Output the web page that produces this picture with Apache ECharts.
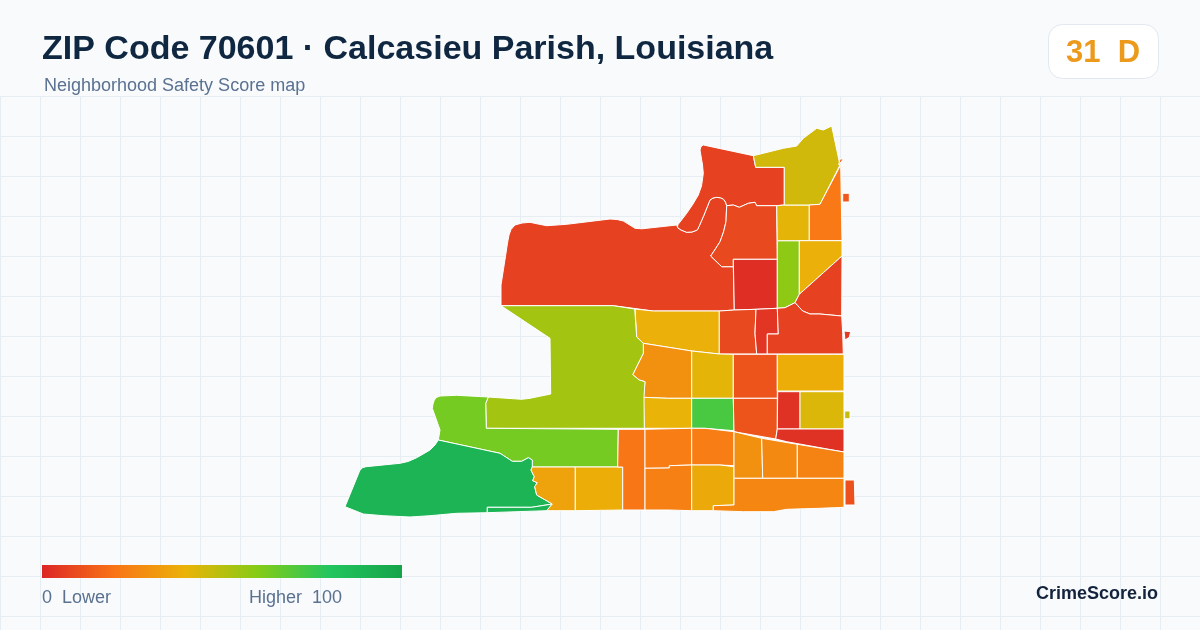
<!DOCTYPE html>
<html>
<head>
<meta charset="utf-8">
<script src="https://cdn.jsdelivr.net/npm/echarts@6/dist/echarts.min.js"></script>
<style>html,body{margin:0;padding:0;background:#f8fafc}#c{width:1200px;height:630px}</style>
</head>
<body>
<div id="c"></div>
<script>
// Headline text
const titleText = 'ZIP Code 70601 · Calcasieu Parish, Louisiana';
const subtitleText = 'Neighborhood Safety Score map';
const badgeText = '31  D';
const legendLowText = '0  Lower';
const legendHighText = 'Higher  100';
const brandText = 'CrimeScore.io';

// Score colour ramp
const rampColors = ['#dc2626', '#f97316', '#eab308', '#84cc16', '#22c55e', '#16a34a'];

// Neighborhood scores
const tractNames = ['WestRiver','NorthBend','MidBend','Core1','StripGreen','NorthCell','NorthEast','EastStrip','EastTip','EastDot',
  'EastWedge','EastTriangle','YellowWest','Row2A','Row2B','Row2C','Row2Dot','Row3A','Row3B','Row3C','Row3D',
  'Row4A','Row4B','Row4C','Row4D','Row4E','Row4Dot','Row4F','GreatLime','MidLime','SouthWest','SouthWestStrip',
  'Bottom1','Bottom2','Bottom3','Row5A','Row5B','Row6A','Row6B','Diag1','Diag2','Diag3','Bottom4','BottomDot'];
const tractScores = [7,7,9,2,58,41,45,22,13,13,
  39,7,39,9,4,7,5,29,41,12,38,
  40,72,12,3,43,47,3,54,63,90,90,
  35,38,21,23,23,24,37,29,27,25,26,11];

// Neighborhood boundaries (flat x,y lists in map units, y running south)
const tractShapes = [
 [501,305.7,501,285,505.7,255,507.5,243,509,235,511,229.5,515,225,522,223,530,222.3,538,224,546.7,225.7,566.7,224.3,610,219,617,219.5,623.3,221,629,224.5,635,228.3,642,228.8,676.7,225,677.7,227.7,681,230,686.7,232.3,692,232,697.3,230,699,226.5,704,215,710,200,713,198,716.7,197.3,720.5,197.8,723.3,199,725.5,202,726.7,205.7,726.3,214,726,221.7,723.5,232,720,241.7,716,248,710.7,256,721.7,266.7,733.3,266.7,734.3,310,720,311,653.3,311,633.3,308.3,613.3,305.7],
 [677.7,227.7,677.7,225,686.7,213.3,693,204,698.3,195,701.5,186,703.3,173.3,702.5,165,700,150,701,146.5,703.3,145,753.3,155.7,755.7,167.3,784.3,167.3,784.3,205,776.7,205.7,756.7,205.7,755,202.3,748.3,203.3,739.3,207.3,733.3,205,726.7,205.7,725.5,202,723.3,199,720.5,197.8,716.7,197.3,713,198,710,200,704,215,699,226.5,697.3,230,692,232,686.7,232.3,681,230],
 [726.7,205.7,733.3,205,739.3,207.3,748.3,203.3,755,202.3,756.7,205.7,776.7,205.7,777.3,259.3,733.3,259.3,733.3,266.7,721.7,266.7,710.7,256,716,248,720,241.7,723.5,232,726,221.7,726.3,214],
 [733.3,259.3,777.3,259.3,777.3,308.3,756,309.3,734.3,310],
 [777.3,240.7,799.3,240.7,799.3,294.3,795,302.7,785,307.7,777.3,308.3],
 [776.7,205.7,784.3,205,809.3,205,809.3,240.7,777.3,240.7],
 [753.3,155.7,783.3,148.3,796.7,146,803.3,138.3,816.7,128.3,823.3,130,831.7,126,840,165,820,204.3,809.3,205,784.3,205,784.3,167.3,755.7,167.3],
 [840.7,165,842,240.7,809.3,240.7,809.3,205,820,204.3],
 [838.7,165,840,159,843.3,159],
 [842.7,193.3,849.3,193.3,849.3,202,842.7,202],
 [799.3,240.7,842,240.7,842,256,799.3,294.3],
 [795,302.7,799.3,294.3,842,256,841.7,316,820,314,810,314,802.7,311],
 [635,309,653.3,311,719.3,311,719.3,354,691.7,351,643.3,343.3,636.7,336.7],
 [719.3,311,734.3,310,756,309.3,755,333.3,756.7,354,719.3,354],
 [756,309.3,777.3,308.3,778.3,334,767.3,334,767.3,354,756.7,354,755,333.3],
 [777.3,308.3,785,307.7,795,302.7,802.7,311,810,314,820,314,841.7,316,842.7,333.3,843.3,354,767.3,354,767.3,334,778.3,334],
 [844,331,850.7,331.7,849.3,337.3,845,340],
 [643.3,343.3,691.7,351,691.7,398.3,667.3,398.3,643.3,397.3,645,381.7,639.3,380,632.7,374.7,643.3,353.3],
 [691.7,351,719.3,354,733.3,354.3,733.3,398.3,691.7,398.3],
 [733.3,354.3,777.3,354.3,777.3,398.3,733.3,398.3],
 [777.3,354.3,844,354.3,844,391,777.3,391],
 [643.3,397.3,667.3,398.3,691.7,398.3,691.7,428.3,644.3,428.3],
 [691.7,398.3,733.3,398.3,734,430.7,705,428.3,691.7,428.3],
 [733.3,398.3,777.3,398.3,777.3,429,775.7,439,734,431.7],
 [777.7,391.7,800,391.7,800,429,777.3,429],
 [800,391.7,844,391.7,844,429,800,429],
 [844.7,411,850,411,850,418.7,844.7,418.7],
 [777.3,429,844,429,844,452,786.7,441.7,775.7,439],
 [501,305.7,613.3,305.7,634.7,309,636.7,337,643.3,343.3,643.3,353.3,632.7,374.7,639.3,380,645,381.7,644,396.7,644.3,428.3,486.3,428.3,485.7,403.3,488.3,397,521.7,399.3,530,398.3,550.7,394,550,338.3],
 [433,404,434.3,400,436.5,397.5,440,396,456.7,395.3,488.3,397,485.7,403.3,486.3,428.3,618.3,429.3,617.7,467,532.3,467,532.3,460,528.3,457.7,521.7,461.3,512.3,461.3,500,453.3,438.3,440,440,430,432.3,408.3],
 [438.3,440,500,453.3,512.3,461.3,521.7,461.3,528.3,457.7,532.3,460,532.3,467,531,470,534.3,476.7,532.7,480.7,537.3,482.7,534.7,486.7,536.7,495,552.3,504,531.7,507.3,487.3,507.3,487.3,512.7,456.7,513.3,430,515.7,410,517,383.3,515.7,363.3,514,345,506.7,360,470,362.5,467.8,366,466.7,400,463.3,408,461.5,416.7,457.7,424,453.5,430,450,435,445],
 [487.3,507.3,531.7,507.3,552.3,504,546.7,510.7,487.3,512.7],
 [532.3,467,575.3,467,575.3,510.7,546.7,510.7,552.3,504,536.7,495,534.7,486.7,537.3,482.7,532.7,480.7,534.3,476.7,531,470],
 [575.3,467,622.7,467,622.7,510,575.3,510.7],
 [618.3,429.3,645,429.3,645,510,622.7,510,622.7,467,617.7,467],
 [645,429.3,691.7,428.3,691.7,465,669.3,465.7,669.3,468,645,468.3],
 [691.7,428.3,705,428.3,734,431.7,734,465.7,720,465,691.7,465],
 [645,468.3,669.3,468,669.3,465.7,691.7,465,691.7,510.7,669.3,510,645,510],
 [691.7,465,720,465,734,466.7,734,505,713.3,505.7,713.3,510.7,691.7,510.7],
 [734,431.7,761.7,438.3,762.7,478.3,734,478.3],
 [761.7,438.3,797.3,444.3,797.3,478.3,762.7,478.3],
 [797.3,444.3,844,452,844,478.3,797.3,478.3],
 [734,478.3,844,478.3,844,507.3,820,508.3,786.7,509.3,773.3,511.7,743.3,511.7,713.3,510.7,713.3,505.7,734,505],
 [845,480,854.3,480,855,505,845,505]
];

function toRing(flat) {
  const ring = [];
  for (let i = 0; i < flat.length; i += 2) ring.push([flat[i], 630 - flat[i + 1]]);
  ring.push(ring[0]);
  return ring;
}
const geoJson = {
  type: 'FeatureCollection',
  features: tractNames.map((name, i) => ({
    type: 'Feature',
    properties: { name },
    geometry: { type: 'Polygon', coordinates: [toRing(tractShapes[i])] }
  }))
};
echarts.registerMap('zip70601', geoJson);

const gridColor = '#e6eef3';
const gridEls = [];
for (let x = 0; x <= 1200; x += 40) {
  gridEls.push({ type: 'line', silent: true, shape: { x1: x + 0.5, y1: 97, x2: x + 0.5, y2: 630 }, style: { stroke: gridColor, lineWidth: 1 } });
}
for (let y = 97; y <= 630; y += 40) {
  gridEls.push({ type: 'line', silent: true, shape: { x1: 0, y1: y - 0.5, x2: 1200, y2: y - 0.5 }, style: { stroke: gridColor, lineWidth: 1 } });
}

const font = '"Liberation Sans", Arial, sans-serif';
function label(text, x, y, size, weight, fill, align) {
  return { type: 'text', silent: true, z: 20, x, y, style: { text, font: weight + ' ' + size + 'px ' + font, fill, align: align || 'left', verticalAlign: 'middle' } };
}

const rampStops = rampColors.map((color, i) => ({ offset: i / (rampColors.length - 1), color }));

const chart = echarts.init(document.getElementById('c'), null, { renderer: 'canvas' });
chart.setOption({
  animation: false,
  backgroundColor: '#f8fafc',
  graphic: [
    { type: 'group', z: -1, silent: true, children: gridEls },
    { type: 'rect', z: 10, silent: true, shape: { x: 1048.5, y: 24.5, width: 110, height: 54, r: 14 }, style: { fill: '#ffffff', stroke: '#e2e8f0', lineWidth: 1 } },
    { type: 'rect', z: 10, silent: true, shape: { x: 42, y: 565, width: 360, height: 13 }, style: { fill: new echarts.graphic.LinearGradient(0, 0, 1, 0, rampStops) } },
    label(titleText, 42, 50, 34, 'bold', '#0f2740'),
    label(subtitleText, 44, 86, 18, 'normal', '#5a7190'),
    label(badgeText, 1103, 53, 31, 'bold', '#ec9a1c', 'center'),
    label(legendLowText, 42, 598, 18, 'normal', '#5a7190'),
    label(legendHighText, 249, 598, 18, 'normal', '#5a7190'),
    label(brandText, 1158, 594, 18, 'bold', '#14233c', 'right')
  ],
  visualMap: {
    type: 'continuous',
    show: false,
    min: 0,
    max: 100,
    inRange: { color: rampColors },
    seriesIndex: 0
  },
  series: [{
    type: 'map',
    map: 'zip70601',
    silent: true,
    roam: false,
    aspectScale: 1,
    boundingCoords: [[0, 630], [1200, 0]],
    left: 0,
    top: 0,
    width: 1200,
    height: 630,
    label: { show: false },
    itemStyle: { borderColor: '#ffffff', borderWidth: 1 },
    emphasis: { disabled: true },
    select: { disabled: true },
    data: tractNames.map((name, i) => ({ name, value: tractScores[i] }))
  }]
});
</script>
</body>
</html>
